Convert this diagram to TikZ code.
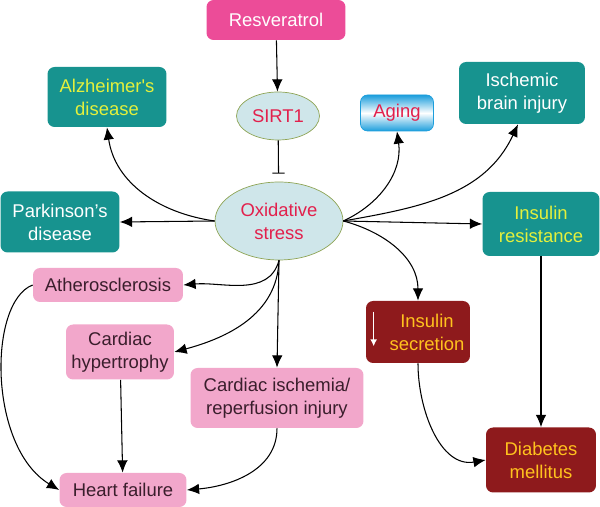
\documentclass[tikz,border=0pt]{standalone}
\usepackage{fontspec}
\setmainfont{Liberation Sans}
\usepackage{xcolor}
\usetikzlibrary{arrows.meta,shapes.geometric}
\definecolor{resvpink}{HTML}{EC4C98}
\definecolor{tealfill}{HTML}{17938F}
\definecolor{lightpink}{HTML}{F2A7CB}
\definecolor{darkred}{HTML}{8E1A1C}
\definecolor{ellfill}{HTML}{CFE6EA}
\definecolor{ellborder}{HTML}{8EA455}
\definecolor{redtext}{HTML}{E2204C}
\definecolor{yelltext}{HTML}{E4F03C}
\definecolor{goldtext}{HTML}{FFC21E}
\definecolor{agingblue}{HTML}{1C9EDC}
\definecolor{darktext}{HTML}{3A1E2C}
\tikzset{
  box/.style={rectangle,rounded corners=4pt,align=center,inner sep=1pt,
    font=\fontsize{10.5}{13}\selectfont},
  tealbox/.style={box,fill=tealfill},
  pinkbox/.style={box,fill=lightpink,text=darktext},
  redbox/.style={box,fill=darkred,text=goldtext},
  ell/.style={ellipse,draw=ellborder,fill=ellfill,text=redtext,align=center,
    inner sep=0pt,font=\fontsize{10.5}{13}\selectfont},
  arr/.style={semithick,-{Latex[length=7pt,width=6pt]}}
}

\begin{document}
\begin{tikzpicture}[x=0.02cm,y=0.02cm]
\useasboundingbox (0,0) rectangle (600,507);

\node[box,fill=resvpink,text=white,minimum width=2.78cm,minimum height=0.8cm] (res) at (276,487) {Resveratrol};
\node[ell,minimum width=1.66cm,minimum height=0.96cm] (sirt) at (278,391) {SIRT1};
\node[ell,minimum width=2.56cm,minimum height=1.56cm] (ox) at (279,286) {Oxidative\\stress};

\node[tealbox,text=yelltext,minimum width=2.38cm,minimum height=1.2cm] (alz) at (107,410) {Alzheimer\textquotesingle s\\disease};
\node[tealbox,text=white,minimum width=2.38cm,minimum height=1.22cm] (park) at (60,285) {Parkinson’s\\disease};
\node[box,draw=agingblue,top color=agingblue,bottom color=agingblue,middle color=white,text=redtext,minimum width=1.46cm,minimum height=0.72cm] (aging) at (397,394) {Aging};
\node[tealbox,text=white,minimum width=2.52cm,minimum height=1.24cm] (isch) at (522,414) {Ischemic\\brain injury};
\node[tealbox,text=yelltext,minimum width=2.34cm,minimum height=1.28cm] (insres) at (541,283) {Insulin\\resistance};

\node[pinkbox,minimum width=3cm,minimum height=0.68cm] (ath) at (108,222) {Atherosclerosis};
\node[pinkbox,minimum width=2.16cm,minimum height=1.1cm] (hyp) at (120,155) {Cardiac\\hypertrophy};
\node[pinkbox,minimum width=3.46cm,minimum height=1.2cm] (cis) at (277,109) {Cardiac ischemia/\\reperfusion injury};
\node[pinkbox,minimum width=2.54cm,minimum height=0.68cm] (hf) at (123,17) {Heart failure};

\node[redbox,minimum width=2.08cm,minimum height=1.24cm] (sec) at (418,175) {};
\node[redbox,fill=none] (sectext) at ([xshift=0.18cm]sec.center) {Insulin\\secretion};
\draw[white,thick,-{Latex[length=4pt,width=4pt]}] ([xshift=0.16cm,yshift=-0.22cm]sec.north west) -- ([xshift=0.16cm,yshift=0.34cm]sec.south west);
\node[redbox,minimum width=2.2cm,minimum height=1.3cm] (dm) at (541,47) {Diabetes\\mellitus};

% top
\draw[arr] (res) -- (sirt);
\draw[semithick,-{Bar[width=7pt]},shorten >=0.16cm] (sirt) -- (ox);

% left side
\draw[arr] (ox.west) -- (park.east);
\draw[arr] (ox.west) to[out=172,in=-82] (alz.south);

% right side
\draw[arr] (ox.east) to[out=25,in=-82] (aging.south);
\draw[arr] (ox.east) to[out=10,in=-115] ([xshift=-0.08cm]isch.south);
\draw[arr] (ox.east) -- (insres.west);
\draw[arr] (ox.east) to[out=-15,in=90] (sec.north);

% heart
\draw[arr] (ox.south) to[out=-105,in=5] (ath.east);
\draw[arr] (ox.south) to[out=-92,in=15] (hyp.east);
\draw[arr] (ox.south) -- (cis.north);
\draw[arr] (ath.west) .. controls (-12,205) and (-12,60) .. (hf.west);
\draw[arr] (hyp) -- (hf);
\draw[arr] (cis.south) to[out=-90,in=5] (hf.east);

% diabetes
\draw[arr] (insres) -- (dm);
\draw[arr] (sec.south) to[out=-90,in=190] (dm.west);

\end{tikzpicture}
\end{document}
